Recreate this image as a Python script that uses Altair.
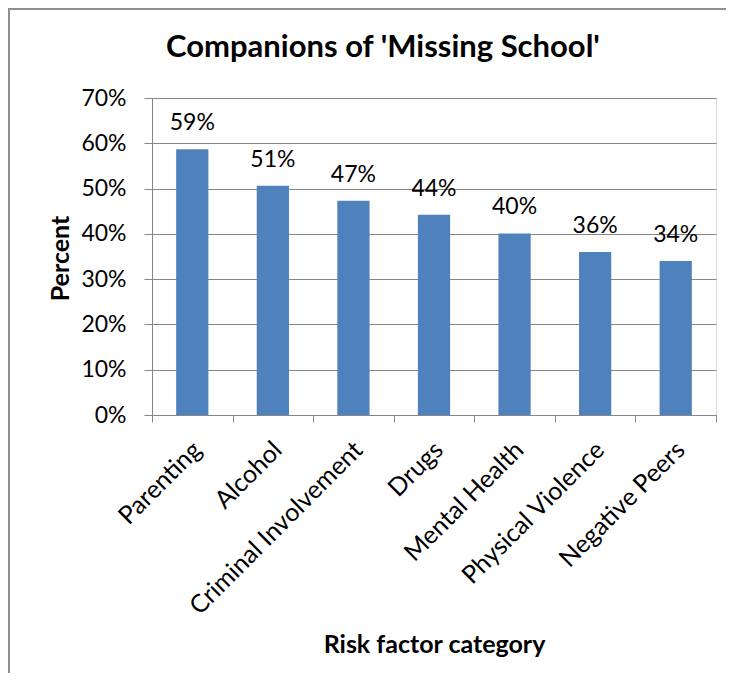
import altair as alt
import pandas as pd

categories = ["Parenting", "Alcohol", "Criminal Involvement", "Drugs",
              "Mental Health", "Physical Violence", "Negative Peers"]
values = [0.587, 0.506, 0.473, 0.442, 0.401, 0.360, 0.340]
y_ticks = [0.0, 0.1, 0.2, 0.3, 0.4, 0.5, 0.6, 0.7]
title_text = "Companions of 'Missing School'"
x_title = "Risk factor category"
y_title = "Percent"

df = pd.DataFrame({"category": categories, "value": values})

PAD_L, PAD_T, W, H = 144, 90, 564, 317
PAD_R, PAD_B = 10, 258
FONT = "Lato"
GRID = "#868686"
BAR = "#4F81BD"
FRAME = "#8f8f8f"

base = alt.Chart(df).encode(
    x=alt.X("category:N", sort=categories, title=x_title,
            scale=alt.Scale(paddingInner=0, paddingOuter=0),
            axis=alt.Axis(labelAngle=315, labelAlign="right", labelBaseline="top",
                          labelPadding=15, labelOffset=-4, labelFontSize=25, labelFont=FONT,
                          labelColor="black", labelLimit=400,
                          tickBand="extent", tickSize=7, tickColor=GRID, tickWidth=1,
                          domainColor=GRID, domainWidth=1, grid=False,
                          titleX=282, titleY=237, titleFontSize=25, titleFont=FONT,
                          titleFontWeight="bold", titleColor="black",
                          titleBaseline="alphabetic", titleAlign="center")),
    y=alt.Y("value:Q", title=y_title,
            scale=alt.Scale(domain=[0, 0.7], nice=False, zero=True),
            axis=alt.Axis(values=y_ticks, format=".0%", grid=True, gridColor=GRID,
                          gridWidth=1, tickColor=GRID, tickSize=8, tickWidth=1,
                          domainColor=GRID, domainWidth=1,
                          labelPadding=18, labelFontSize=23, labelFont=FONT,
                          labelColor="black",
                          titleX=-92, titleY=160, titleAngle=270, titleFontSize=25,
                          titleFont=FONT, titleFontWeight="bold", titleColor="black",
                          titleBaseline="middle", titleAlign="center")),
)

bars = base.mark_bar(color=BAR, width=alt.RelativeBandSize(0.4))
labels = base.mark_text(dy=-19, baseline="alphabetic", fontSize=23, font=FONT,
                        color="black").encode(text=alt.Text("value:Q", format=".0%"))

one = pd.DataFrame({"t": [title_text]})
title = alt.Chart(one).mark_text(font=FONT, fontSize=31, fontWeight="bold",
                                 align="center", baseline="alphabetic",
                                 color="black").encode(
    x=alt.value(231), y=alt.value(-41), text="t:N")

left_line = alt.Chart(one).mark_rect(fill=FRAME, strokeWidth=0).encode(
    x=alt.value(-PAD_L), x2=alt.value(-PAD_L + 2),
    y=alt.value(-PAD_T), y2=alt.value(H + PAD_B))
top_line = alt.Chart(one).mark_rect(fill=FRAME, strokeWidth=0).encode(
    x=alt.value(-PAD_L), x2=alt.value(W + PAD_R),
    y=alt.value(-PAD_T), y2=alt.value(-PAD_T + 2))

chart = alt.layer(left_line, top_line, bars, labels, title).properties(
    width=W, height=H,
    padding={"left": PAD_L, "top": PAD_T, "right": PAD_R, "bottom": PAD_B},
    autosize=alt.AutoSizeParams(type="none"),
).configure_view(stroke=None).configure(background="white")

chart.save("out.html", embed_options={"renderer": "svg", "actions": False})
